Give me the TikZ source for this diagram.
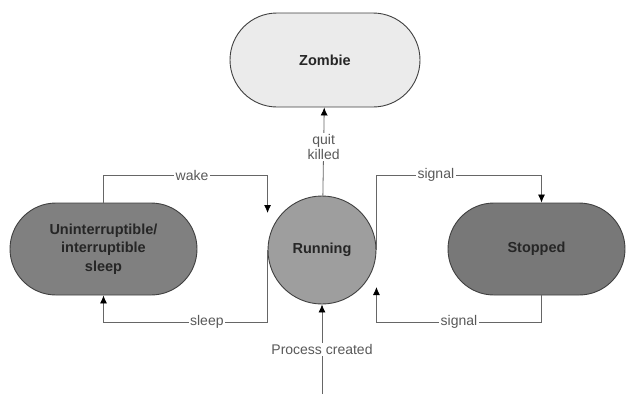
\documentclass[tikz,border=0pt]{standalone}
\usepackage{fontspec}
\setmainfont{Liberation Sans}
\usetikzlibrary{arrows.meta,calc}

\begin{document}
\begin{tikzpicture}[x=1pt,y=-1pt]

% styles for the states and the transitions
\tikzset{%
    statetext/.style={draw=black!75,line width=0.9pt,text=black!85,align=center,font=\fontsize{14.5}{18.7}\selectfont\bfseries},
    pill/.style={statetext,minimum width=187pt,minimum height=92pt,rounded corners=46pt},
    conn/.style={->,>={Latex[length=8pt,width=7pt,black]},line width=0.8pt,draw=black!60},
    lbl/.style={fill=white,inner sep=1.5pt,text=black!65,font=\fontsize{14}{15}\selectfont,align=center},
}

% loop heights (px)
\def\topy{175}
\def\boty{322}

\useasboundingbox (0,0) rectangle (626,394);

% states
\node [pill,fill=black!8,minimum width=190pt,minimum height=94pt,rounded corners=47pt] (zombie) at (325,60) {Zombie};
\node [statetext,circle,fill=black!38,minimum size=108pt,inner sep=0pt] (running) at (322,250) {Running};
\node [pill,fill=black!50] (sleep) at (103.5,249) {Uninterruptible/\\interruptible\\sleep};
\node [pill,fill=black!53,minimum width=177pt] (stopped) at (536.5,249) {Stopped};

% free ends
\coordinate (wakeend) at ($(running.west)+(0,-37)$);
\coordinate (sigend) at ($(running.east)+(0,37)$);
\coordinate (stopin) at ($(stopped.north)+(5,0)$);
\coordinate (stopout) at ($(stopped.south)+(5,0)$);
\coordinate (created) at (322,394);

% running -> zombie
\draw [conn] (running) -- node[lbl,pos=0.55] {quit\\killed} (zombie);

% sleep <-> running
\draw [conn] (sleep.north) -- (sleep.north |- 0,\topy) -- node[lbl,pos=0.54] {wake} (wakeend |- 0,\topy) -- (wakeend);
\draw [conn] (running.west) -- (running.west |- 0,\boty) -- node[lbl,pos=0.37] {sleep} (sleep.south |- 0,\boty) -- (sleep.south);

% running <-> stopped
\draw [conn] (running.east) -- (running.east |- 0,\topy) -- node[lbl,pos=0.36] {signal} (stopin |- 0,\topy) -- (stopin);
\draw [conn] (stopout) -- (stopout |- 0,\boty) -- node[lbl] {signal} (sigend |- 0,\boty) -- (sigend);

% creation
\draw [conn] (created) -- node[lbl] {Process created} (running.south);

\end{tikzpicture}
\end{document}
